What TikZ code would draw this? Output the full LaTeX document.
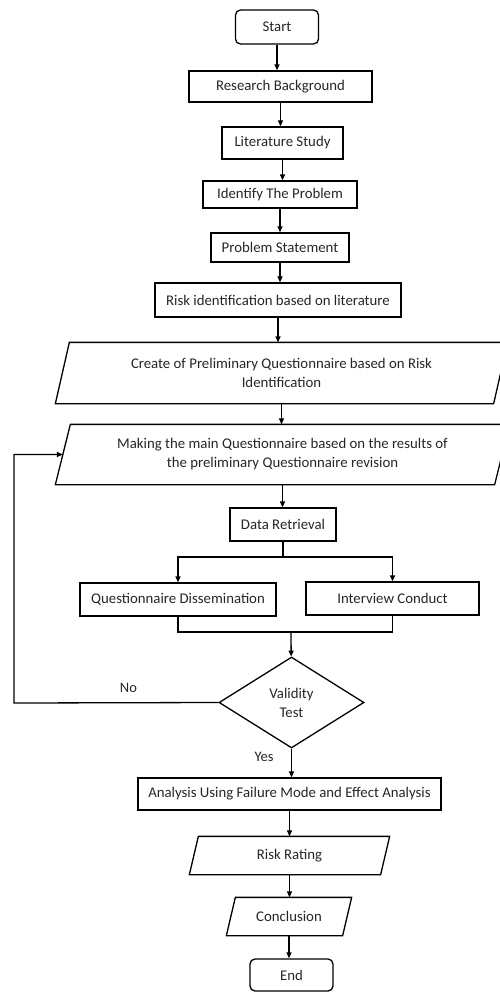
\documentclass[tikz,border=0pt]{standalone}
\usepackage{fontspec}
\setmainfont{Carlito}
\usetikzlibrary{arrows.meta, positioning, shapes.geometric}
\tikzset{
    termbox/.style={draw, rounded corners=5pt, inner sep=0pt},
    procbox/.style={draw, inner sep=0pt},
    iobox/.style={inner sep=0pt, align=center},
    decbox/.style={draw, diamond, aspect=1.6, inner sep=0pt, align=center},
    arr/.style={-{Triangle[length=6pt, width=5pt]}},
    lbl/.style={font=\fontsize{14.5}{17}\selectfont}
}

\begin{document}
\begin{tikzpicture}[x=1pt, y=-1pt, line width=1.3pt, text=black!85, font=\fontsize{14.8}{19}\selectfont]
    \useasboundingbox (0,0) rectangle (499,992);
    % Main column
    \node[termbox, minimum width=83, minimum height=34] (start) at (277,27) {Start};
    \node[procbox, minimum width=183, minimum height=31] (bg) at (280.5,86.5) {Research Background};
    \node[procbox, minimum width=121, minimum height=32] (lit) at (282.5,143) {Literature Study};
    \node[procbox, minimum width=154, minimum height=27] (ident) at (280,194.5) {Identify The Problem};
    \node[procbox, minimum width=138, minimum height=29] (stmt) at (280,247.5) {Problem Statement};
    \node[procbox, minimum width=246, minimum height=34] (riskid) at (278,300) {Risk identification based on literature};
    \node[iobox, minimum width=437, minimum height=60] (prelim) at (281.5,373) {Create of Preliminary Questionnaire based on Risk\\Identification};
    \node[iobox, minimum width=438, minimum height=59] (mainq) at (282.5,454.5) {Making the main Questionnaire based on the results of\\the preliminary Questionnaire revision};
    \node[procbox, minimum width=106, minimum height=33] (data) at (283,524.5) {Data Retrieval};
    \node[procbox, minimum width=196, minimum height=33] (dissem) at (178,599.5) {Questionnaire Dissemination};
    \node[procbox, minimum width=173, minimum height=33] (interview) at (392.5,598.5) {Interview Conduct};
    \node[decbox, minimum width=145, minimum height=91] (valid) at (291.5,702.5) {Validity\\Test};
    \node[procbox, minimum width=303, minimum height=32] (fmea) at (289.5,794) {Analysis Using Failure Mode and Effect Analysis};
    \node[iobox, minimum width=190, minimum height=37] (rating) at (289.5,855.5) {Risk Rating};
    \node[iobox, minimum width=115, minimum height=37] (concl) at (289,916.5) {Conclusion};
    \node[termbox, minimum width=83, minimum height=32] (end) at (291.5,975) {End};

    % Slanted outlines of the data boxes
    \foreach \n/\s in {prelim/7, mainq/7.5, rating/4.5, concl/4.5} {
        \draw ([xshift=-\s]\n.south west) -- ([xshift=\s]\n.north west) -- ([xshift=\s]\n.north east) -- ([xshift=-\s]\n.south east) -- cycle;
    }

    \coordinate (fork) at (283,557);
    \coordinate (join) at (291,632);
    \coordinate (back) at (14,703);

    % Straight arrows
    \foreach \a/\b in {start/bg, bg/lit, lit/ident, ident/stmt, stmt/riskid, riskid/prelim, prelim/mainq, mainq/data, valid/fmea, fmea/rating, rating/concl, concl/end} {
        \draw[arr] (\a.south) -- (\a.south |- \b.north);
    }
    % Split and merge
    \draw (data.south) -- (fork);
    \draw[arr] (fork) -| (dissem);
    \draw[arr] (fork) -| (interview);
    \draw (dissem) |- (join) -| (interview);
    \draw[arr] (join) -- (valid);
    % Loop back
    \draw[arr] (valid.west) -- node[pos=0.44, above=6pt, lbl] {No} (back) |- (mainq);
    \node[lbl, left=14pt of valid.south, yshift=-8pt] {Yes};
\end{tikzpicture}
\end{document}
